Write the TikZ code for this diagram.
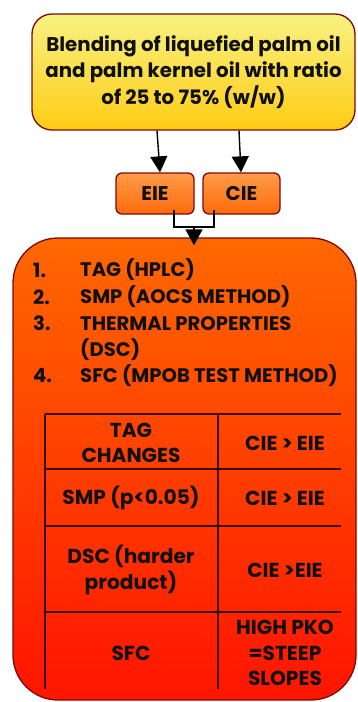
\documentclass[tikz,border=0pt]{standalone}
\usepackage{fontspec}
\setmainfont{Poppins}
\usetikzlibrary{arrows.meta}
\definecolor{edgered}{HTML}{7A0A0A}
\definecolor{ink}{HTML}{101010}
\definecolor{ylwtop}{HTML}{F8F282}
\definecolor{ylwbot}{HTML}{FFCC14}
\definecolor{orgtop}{HTML}{FF9C48}
\definecolor{orgbot}{HTML}{FF6A0C}
\definecolor{bigtop}{HTML}{FF6800}
\definecolor{bigbot}{HTML}{FF1400}
\definecolor{gridline}{HTML}{3A0800}
\tikzset{
  box/.style={draw=edgered, line width=1.3pt, inner sep=0pt, text=ink,
    font=\bfseries\fontsize{19.8}{26.5}\selectfont},
  flowarrow/.style={draw=black, line width=1.4pt,
    -{Triangle[length=16pt, width=17pt]}},
  joinline/.style={draw=black, line width=1.2pt},
  rule/.style={draw=gridline, line width=1.1pt},
  item/.style={anchor=west, inner sep=0pt, text=ink,
    font=\bfseries\fontsize{19.6}{26}\selectfont},
  cell/.style={align=center, inner sep=0pt, text=ink,
    font=\bfseries\fontsize{20.2}{25.5}\selectfont},
}
\begin{document}
\begin{tikzpicture}[x=1pt, y=-1pt]
\useasboundingbox (0,0) rectangle (357,702);

% source blend
\node[box, rounded corners=20pt, top color=ylwtop, bottom color=ylwbot,
      minimum width=323pt, minimum height=116pt, align=center]
  (blend) at (193.5,72)
  {Blending of liquefied palm oil\\and palm kernel oil with ratio\\of 25 to 75\% (w/w)};

% interesterification routes
\node[box, rounded corners=6pt, top color=orgtop, bottom color=orgbot,
      minimum width=78pt, minimum height=41pt] (eie) at (155,193.5) {EIE};
\node[box, rounded corners=6pt, top color=orgtop, bottom color=orgbot,
      minimum width=77pt, minimum height=41pt] (cie) at (241.5,193.5) {CIE};

% analyses and results
\node[box, rounded corners=45pt, top color=bigtop, bottom color=bigbot,
      minimum width=343pt, minimum height=462pt] (res) at (184.5,469) {};

\draw[flowarrow] ([xshift=-36.5pt]blend.south) -- ([xshift=5pt]eie.north);
\draw[flowarrow] ([xshift=45.5pt]blend.south) -- ([xshift=-0.5pt]cie.north);

\coordinate (join) at (194,227);
\draw[joinline] ([shift={(19,-5)}]eie.south) |- (join)
                -| ([shift={(-27.5,-5)}]cie.south);
\draw[flowarrow] (join) -- ([shift={(9.5,8)}]res.north);

% list of methods
\node[item] (n1) at (33,270) {1.};
\node[item] (t1) at (80,270) {TAG (HPLC)};
\node[item] (n2) at (33,297) {2.};
\node[item] (t2) at (80,297) {SMP (AOCS METHOD)};
\node[item] (n3) at (33,323.5) {3.};
\node[item] (t3) at (80,323.5) {THERMAL PROPERTIES};
\node[item] (t3b) at (80,349.5) {(DSC)};
\node[item] (n4) at (33,375.5) {4.};
\node[item] (t4) at (80,375.5) {SFC (MPOB TEST METHOD)};

% results table
\draw[rule] (45,414) -- (45,689);
\draw[rule] (218,414) -- (218,689);
\foreach \yy in {414,469,526,612} \draw[rule] (45,\yy) -- (341,\yy);

\node[cell] (c11) at (131,443) {TAG\\CHANGES};
\node[cell] (c12) at (285,443) {CIE > EIE};
\node[cell] (c21) at (131,498) {SMP (p<0.05)};
\node[cell] (c22) at (285,498) {CIE > EIE};
\node[cell] (c31) at (131,570) {DSC (harder\\product)};
\node[cell] (c32) at (285,570) {CIE >EIE};
\node[cell] (c41) at (131,653) {SFC};
\node[cell] (c42) at (285,653) {HIGH PKO\\=STEEP\\SLOPES};
\end{tikzpicture}
\end{document}
